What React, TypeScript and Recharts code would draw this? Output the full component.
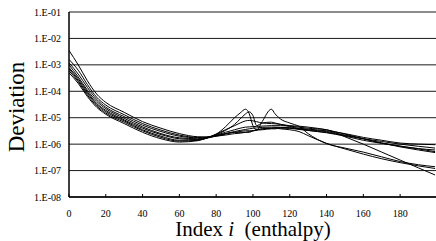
import React from "react";
import { LineChart, Line, XAxis, YAxis, CartesianGrid } from "recharts";

const X = [0, 5, 10, 15, 20, 30, 40, 50, 60, 70, 75, 80, 85, 90, 93, 96, 98, 100, 102, 105, 110, 112, 115, 120, 125, 130, 140, 150, 160, 170, 180, 190, 199];

const S1 = [3.5e-3, 1.0e-3, 2.5e-4, 7.9e-5, 3.8e-5, 1.6e-5, 7.1e-6, 4.0e-6, 2.5e-6, 1.9e-6, 1.86e-6, 2.4e-6, 4.5e-6, 1.0e-5, 1.5e-5, 2.1e-5, 1.4e-5, 5.0e-6, 3.5e-6, 3.8e-6, 4.0e-6, 4.2e-6, 4.2e-6, 4.0e-6, 3.6e-6, 3.3e-6, 2.8e-6, 2.1e-6, 1.6e-6, 1.26e-6, 1.0e-6, 8.3e-7, 7.1e-7];
const S2 = [1.6e-3, 6.3e-4, 1.8e-4, 6.0e-5, 3.0e-5, 1.3e-5, 6.0e-6, 3.4e-6, 2.2e-6, 1.8e-6, 1.86e-6, 2.3e-6, 3.3e-6, 5.6e-6, 8.9e-6, 1.4e-5, 1.66e-5, 1.2e-5, 5.0e-6, 6.3e-6, 6.8e-6, 6.3e-6, 5.6e-6, 4.7e-6, 3.8e-6, 3.3e-6, 2.7e-6, 2.0e-6, 1.4e-6, 1.07e-6, 8.3e-7, 6.6e-7, 5.2e-7];
const S3 = [1.2e-3, 4.5e-4, 1.4e-4, 5.0e-5, 2.5e-5, 1.1e-5, 5.2e-6, 3.0e-6, 2.0e-6, 1.74e-6, 1.8e-6, 2.1e-6, 2.5e-6, 2.8e-6, 3.0e-6, 3.2e-6, 3.2e-6, 3.2e-6, 3.3e-6, 7.1e-6, 2.1e-5, 1.4e-5, 8.9e-6, 6.3e-6, 4.7e-6, 2.5e-6, 1.05e-6, 7.1e-7, 5.0e-7, 3.3e-7, 2.2e-7, 1.66e-7, 1.4e-7];
const S4 = [1.0e-3, 3.5e-4, 1.1e-4, 4.2e-5, 2.2e-5, 9.5e-6, 4.5e-6, 2.5e-6, 1.74e-6, 1.6e-6, 1.8e-6, 2.0e-6, 2.2e-6, 2.5e-6, 2.6e-6, 2.8e-6, 3.0e-6, 3.2e-6, 3.5e-6, 3.8e-6, 4.0e-6, 4.0e-6, 3.8e-6, 3.5e-6, 3.0e-6, 2.1e-6, 1.07e-6, 6.6e-7, 4.2e-7, 2.8e-7, 2.0e-7, 1.5e-7, 1.2e-7];
const S5 = [7.9e-4, 3.0e-4, 9.5e-5, 3.5e-5, 1.9e-5, 8.3e-6, 4.0e-6, 2.3e-6, 1.6e-6, 1.5e-6, 1.74e-6, 2.2e-6, 2.8e-6, 3.5e-6, 4.0e-6, 4.4e-6, 4.5e-6, 4.6e-6, 4.7e-6, 4.8e-6, 5.0e-6, 5.0e-6, 5.0e-6, 4.8e-6, 4.4e-6, 4.0e-6, 3.5e-6, 1.9e-6, 1.0e-6, 5.0e-7, 2.5e-7, 1.26e-7, 6.8e-8];
const S6 = [7.1e-4, 2.6e-4, 8.3e-5, 3.2e-5, 1.7e-5, 7.6e-6, 3.5e-6, 2.0e-6, 1.4e-6, 1.45e-6, 1.7e-6, 2.1e-6, 2.5e-6, 3.0e-6, 3.3e-6, 3.6e-6, 3.8e-6, 4.0e-6, 4.1e-6, 4.3e-6, 4.4e-6, 4.4e-6, 4.3e-6, 4.2e-6, 4.0e-6, 3.7e-6, 3.2e-6, 2.5e-6, 1.8e-6, 1.4e-6, 1.1e-6, 1.0e-6, 9.5e-7];
const S7 = [6.0e-4, 2.3e-4, 7.2e-5, 2.8e-5, 1.5e-5, 6.8e-6, 3.2e-6, 1.8e-6, 1.3e-6, 1.4e-6, 1.7e-6, 2.4e-6, 3.5e-6, 5.0e-6, 6.3e-6, 7.6e-6, 7.9e-6, 7.6e-6, 7.1e-6, 6.3e-6, 6.0e-6, 5.9e-6, 5.6e-6, 5.0e-6, 4.8e-6, 4.4e-6, 3.5e-6, 2.4e-6, 1.6e-6, 1.1e-6, 8.5e-7, 6.8e-7, 6.0e-7];
const S8 = [5.0e-4, 2.0e-4, 6.3e-5, 2.5e-5, 1.35e-5, 6.0e-6, 2.8e-6, 1.6e-6, 1.2e-6, 1.35e-6, 1.7e-6, 2.0e-6, 2.4e-6, 2.8e-6, 2.8e-6, 2.8e-6, 2.8e-6, 3.2e-6, 3.4e-6, 3.5e-6, 3.8e-6, 3.8e-6, 4.0e-6, 4.0e-6, 3.8e-6, 3.5e-6, 3.0e-6, 2.2e-6, 1.6e-6, 1.1e-6, 7.9e-7, 6.0e-7, 4.8e-7];

const SERIES = [S1, S2, S3, S4, S5, S6, S7, S8];
const X_TICKS = [0, 20, 40, 60, 80, 100, 120, 140, 160, 180];
const Y_TICKS = [1e-8, 1e-7, 1e-6, 1e-5, 1e-4, 1e-3, 1e-2, 1e-1];
const Y_LABELS = ["1.E-08", "1.E-07", "1.E-06", "1.E-05", "1.E-04", "1.E-03", "1.E-02", "1.E-01"];

const data = X.map((x, i) => {
  const row: Record<string, number> = { x };
  SERIES.forEach((s, k) => {
    row["s" + (k + 1)] = s[i];
  });
  return row;
});

const FONT = "'Times New Roman', 'Liberation Serif', Tinos, serif";
const fontStyle = { fontFamily: FONT };

const XTick = (props: any) => {
  const { x, y, payload } = props;
  return (
    <g>
      <line x1={x} y1={y} x2={x} y2={y - 3} stroke="#000" strokeWidth={1} />
      <text x={x} y={y + 19.5} textAnchor="middle" fontSize={10} style={fontStyle} fill="#000">
        {payload.value}
      </text>
    </g>
  );
};

const YTick = (props: any) => {
  const { x, y, payload } = props;
  const idx = Y_TICKS.findIndex((t) => Math.abs(Math.log10(t) - Math.log10(payload.value)) < 1e-6);
  return (
    <text x={x - 8} y={y + 3.5} textAnchor="end" fontSize={10} style={fontStyle} fill="#000">
      {idx >= 0 ? Y_LABELS[idx] : ""}
    </text>
  );
};

const XTitle = () => (
  <text x={253} y={236} textAnchor="middle" fontSize={21} style={{ ...fontStyle, whiteSpace: "pre" }} fill="#000">
    <tspan>Index </tspan>
    <tspan fontStyle="italic">i</tspan>
    <tspan>{"  (enthalpy)"}</tspan>
  </text>
);

const YTitle = () => (
  <text x={24} y={107} textAnchor="middle" fontSize={23} style={fontStyle} fill="#000" transform="rotate(-90 24 107)">
    Deviation
  </text>
);

export default function App() {
  return (
    <div style={{ position: "absolute", left: 0, top: 0, width: 436, height: 241, background: "#fff", fontFamily: FONT }}>
      <LineChart width={436} height={241} data={data} margin={{ top: 12, right: 0, bottom: 0, left: 0 }} style={fontStyle}>
        <CartesianGrid horizontal={true} vertical={false} stroke="#000" strokeWidth={1} strokeOpacity={0.9} />
        <XAxis
          dataKey="x"
          type="number"
          domain={[0, 199.5]}
          ticks={X_TICKS}
          height={44}
          tickSize={0}
          tickMargin={0}
          tickLine={false}
          tick={<XTick />}
          axisLine={{ stroke: "#000", strokeWidth: 1.5 }}
          allowDataOverflow
          label={<XTitle />}
        />
        <YAxis
          type="number"
          scale="log"
          domain={[1e-8, 1e-1]}
          ticks={Y_TICKS}
          width={69}
          tickSize={0}
          tickMargin={0}
          tickLine={false}
          tick={<YTick />}
          axisLine={{ stroke: "#000", strokeWidth: 1.5 }}
          allowDataOverflow
          interval={0}
          label={<YTitle />}
        />
        {SERIES.map((_, k) => (
          <Line
            key={k}
            type="monotone"
            dataKey={"s" + (k + 1)}
            stroke="#000"
            strokeWidth={1}
            dot={false}
            isAnimationActive={false}
          />
        ))}
      </LineChart>
    </div>
  );
}
